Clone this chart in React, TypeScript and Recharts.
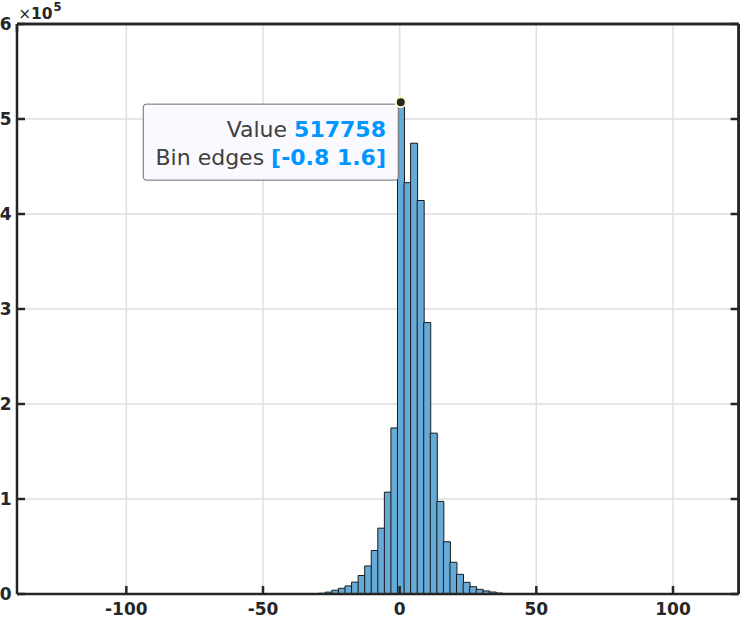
import React from 'react';
import { BarChart, Bar, XAxis, YAxis, CartesianGrid, ReferenceDot, ReferenceLine } from 'recharts';

// Histogram bin centers (bin width 2.4, edges at -0.8 + 2.4k)
const binCenters = [
  -30.8, -28.4, -26.0, -23.6, -21.2, -18.8, -16.4, -14.0, -11.6, -9.2,
  -6.8, -4.4, -2.0, 0.4, 2.8, 5.2, 7.6, 10.0, 12.4, 14.8,
  17.2, 19.6, 22.0, 24.4, 26.8, 29.2, 31.6, 34.0, 36.4, 38.8,
];
const binCounts = [
  300, 800, 2000, 4000, 6000, 8500, 12500, 19500, 29500, 45800,
  69300, 107200, 174800, 517758, 433000, 474500, 414200, 285700, 169300, 97500,
  55000, 33400, 20700, 12300, 7700, 4900, 3200, 2100, 1000, 300,
];
const xTicks = [-100, -50, 0, 50, 100];
const yTicks = [0, 100000, 200000, 300000, 400000, 500000, 600000];
const xDomain = [-140, 124];
const yDomain = [0, 600000];
const tipCenter = 0.4;
const tipValue = 517758;
const tipEdges = [-0.8, 1.6];

const data = binCenters.map((c, i) => ({ x: c, count: binCounts[i] }));

const AXIS = '#262626';
const FONT = '"DejaVu Sans", sans-serif';

const XTick = (props: any) => {
  const { x, y, payload } = props;
  return (
    <g>
      <line x1={x} x2={x} y1={y} y2={y - 8} stroke={AXIS} strokeWidth={2.5} />
      <text x={x} y={y + 20.5} textAnchor="middle" fontFamily={FONT} fontWeight="bold" fontSize={17} fill={AXIS}>
        {payload.value}
      </text>
    </g>
  );
};

const YTick = (props: any) => {
  const { x, y, payload } = props;
  return (
    <g>
      <line x1={x} x2={x + 8} y1={y} y2={y} stroke={AXIS} strokeWidth={2.5} />
      <text x={x - 5.5} y={y + 6.2} textAnchor="end" fontFamily={FONT} fontWeight="bold" fontSize={17} fill={AXIS}>
        {payload.value / 100000}
      </text>
    </g>
  );
};

const TopTick = (props: any) => {
  const { x, y } = props;
  return <line x1={x} x2={x} y1={y} y2={y + 8} stroke={AXIS} strokeWidth={2.5} />;
};

const RightTick = (props: any) => {
  const { x, y } = props;
  return <line x1={x} x2={x - 8} y1={y} y2={y} stroke={AXIS} strokeWidth={2.5} />;
};

const TipShape = (props: any) => {
  const { cx, cy } = props;
  return (
    <g>
      <rect x={cx - 257.5} y={cy + 2} width={255} height={76} rx={3} ry={3} fill="#f9f9ff" stroke="#6b6b6b" strokeWidth={1} />
      <text x={cx - 14.8} y={cy + 34.4} textAnchor="end" fontFamily={FONT} fontSize={22}>
        <tspan fill="#404040">Value </tspan>
        <tspan fill="#0096ff" fontWeight="bold">{tipValue}</tspan>
      </text>
      <text x={cx - 14.8} y={cy + 62.7} textAnchor="end" fontFamily={FONT} fontSize={22}>
        <tspan fill="#404040">Bin edges </tspan>
        <tspan fill="#0096ff" fontWeight="bold">{`[${tipEdges[0]} ${tipEdges[1]}]`}</tspan>
      </text>
      <circle cx={cx} cy={cy} r={5} fill="#262626" stroke="#ffffc8" strokeWidth={2} />
    </g>
  );
};

export default function App() {
  return (
    <div style={{ position: 'absolute', left: 0, top: 0, width: 741, height: 617, background: '#fff' }}>
      <BarChart
        width={741}
        height={617}
        data={data}
        margin={{ top: 23, right: 1.4, bottom: 0, left: 0 }}
        barCategoryGap={0}
        barGap={0}
      >
        <CartesianGrid stroke="#dedede" strokeWidth={1.5} />
        <Bar dataKey="count" fill="#66aad7" stroke="#1a1a1a" strokeWidth={1} isAnimationActive={false} />
        <ReferenceLine y={yDomain[1]} stroke={AXIS} strokeWidth={2.5} ifOverflow="visible" />
        <ReferenceLine x={xDomain[1]} stroke={AXIS} strokeWidth={2.5} ifOverflow="visible" />
        <XAxis
          dataKey="x"
          type="number"
          domain={xDomain}
          ticks={xTicks}
          interval={0}
          allowDataOverflow
          height={23}
          tickSize={0}
          tickMargin={0}
          tickLine={false}
          tick={<XTick />}
          axisLine={{ stroke: AXIS, strokeWidth: 2.5 }}
        />
        <XAxis
          xAxisId="top"
          orientation="top"
          type="number"
          domain={xDomain}
          ticks={xTicks}
          interval={0}
          allowDataOverflow
          height={1}
          tickSize={0}
          tickMargin={0}
          tickLine={false}
          tick={<TopTick />}
          axisLine={{ stroke: AXIS, strokeWidth: 2.5 }}
        />
        <YAxis
          type="number"
          domain={yDomain}
          ticks={yTicks}
          interval={0}
          allowDataOverflow
          width={17}
          tickSize={0}
          tickMargin={0}
          tickLine={false}
          tick={<YTick />}
          axisLine={{ stroke: AXIS, strokeWidth: 2.5 }}
        />
        <YAxis
          yAxisId="right"
          orientation="right"
          type="number"
          domain={yDomain}
          ticks={yTicks}
          interval={0}
          allowDataOverflow
          width={1}
          tickSize={0}
          tickMargin={0}
          tickLine={false}
          tick={<RightTick />}
          axisLine={{ stroke: AXIS, strokeWidth: 2.5 }}
        />
        <ReferenceDot x={tipCenter} y={tipValue} r={5} shape={<TipShape />} ifOverflow="visible" />
      </BarChart>
      <svg width={80} height={24} style={{ position: 'absolute', left: 0, top: 0 }}>
        <text fontFamily={FONT} fill={AXIS}>
          <tspan x={18.5} y={18.5} fontSize={15}>×</tspan>
          <tspan x={31} y={19} fontSize={15.5} fontWeight="bold">10</tspan>
          <tspan x={53.5} y={10.5} fontSize={11.5} fontWeight="bold">5</tspan>
        </text>
      </svg>
    </div>
  );
}
